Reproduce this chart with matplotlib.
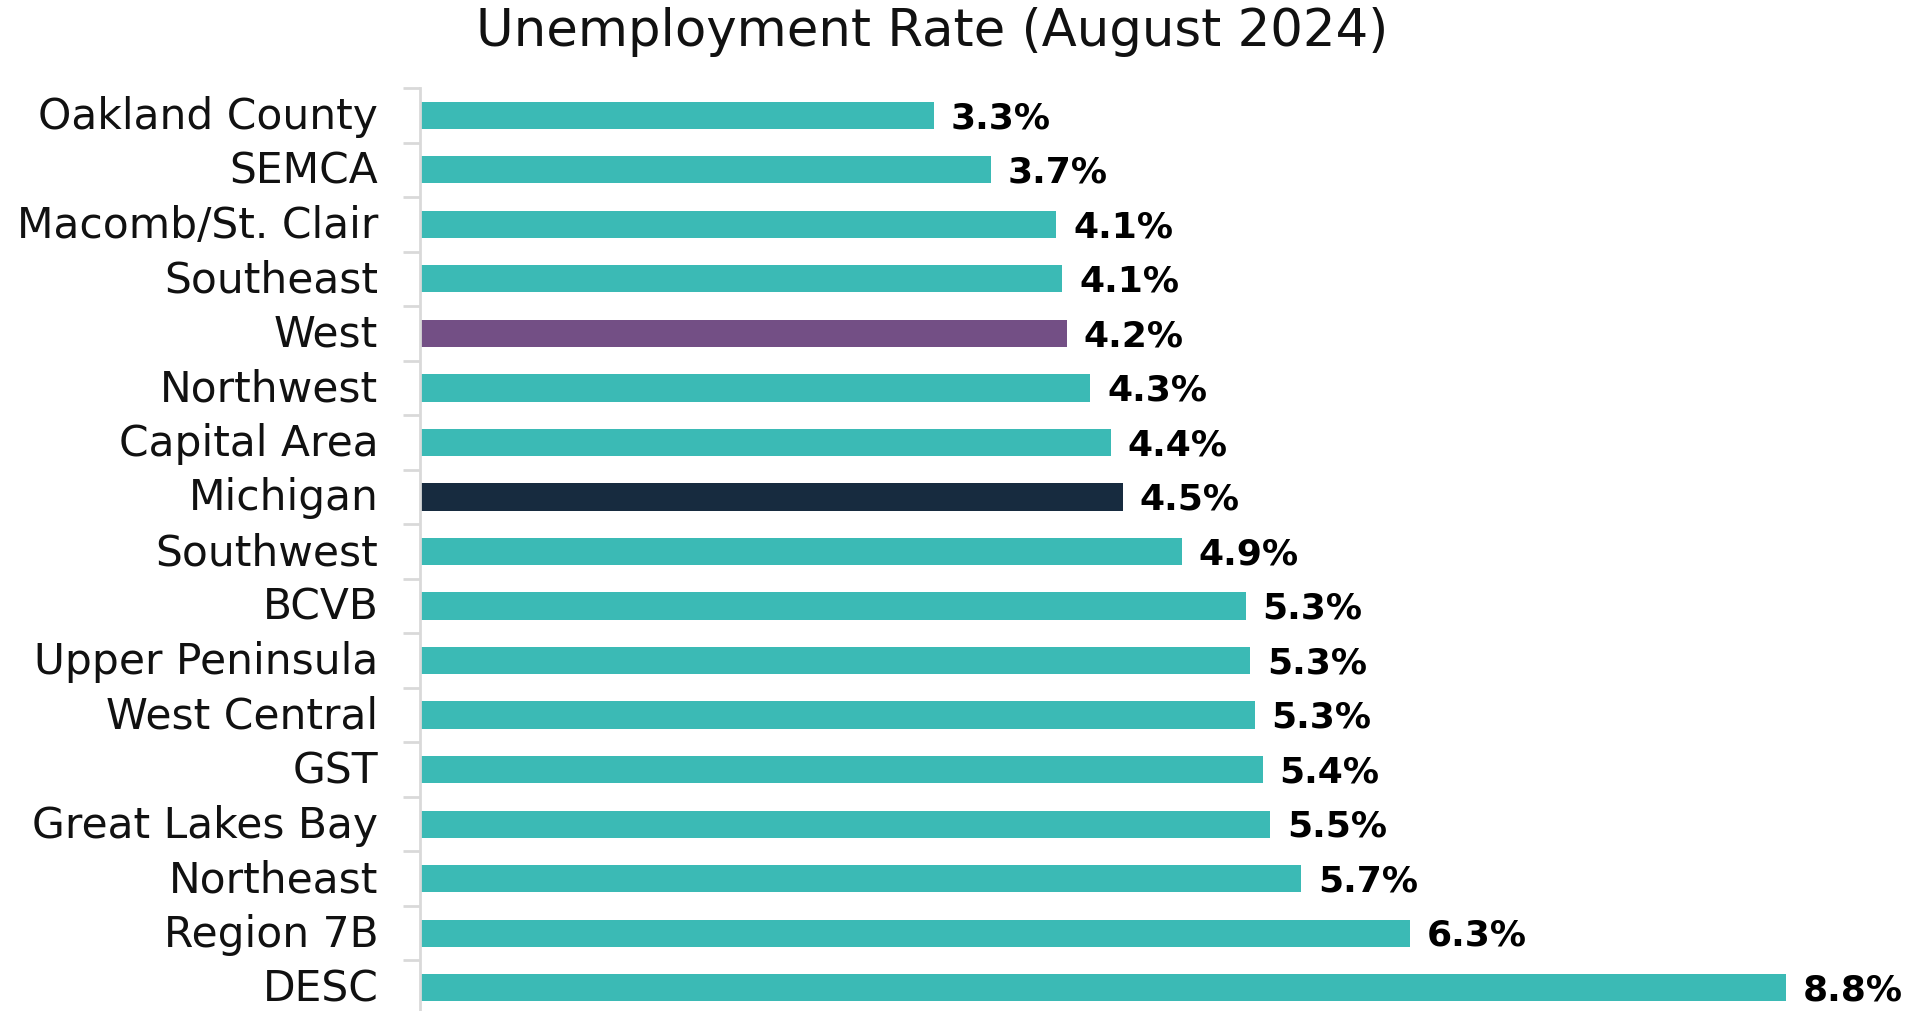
import matplotlib
matplotlib.use("Agg")
import matplotlib.pyplot as plt
import matplotlib.transforms as mtransforms

# data, top to bottom as shown
regions = [
    "Oakland County", "SEMCA", "Macomb/St. Clair", "Southeast", "West",
    "Northwest", "Capital Area", "Michigan", "Southwest", "BCVB",
    "Upper Peninsula", "West Central", "GST", "Great Lakes Bay",
    "Northeast", "Region 7B", "DESC",
]
rates = [3.31, 3.68, 4.10, 4.14, 4.17, 4.32, 4.45, 4.53, 4.91, 5.32,
         5.35, 5.38, 5.43, 5.48, 5.68, 6.38, 8.80]
rate_labels = ["3.3%", "3.7%", "4.1%", "4.1%", "4.2%", "4.3%", "4.4%", "4.5%",
               "4.9%", "5.3%", "5.3%", "5.3%", "5.4%", "5.5%", "5.7%", "6.3%", "8.8%"]

teal = "#3BBAB5"
highlight = {"West": "#734F85", "Michigan": "#172B3F"}
colors = [highlight.get(r, teal) for r in regions]

plt.rcParams['font.family'] = ['DejaVu Sans']

W, H = 1924, 1011
fig = plt.figure(figsize=(W / 100, H / 100), dpi=100)

# axes placed in pixel terms
left, right = 420, 1885
top, bottom = 88, 1015
ax = fig.add_axes([left / W, 1 - bottom / H, (right - left) / W, (bottom - top) / H])

y = list(range(len(regions)))
ax.barh(y, rates, height=0.5, color=colors)

ax.set_xlim(0, 9.44)
ax.set_ylim(len(regions) - 0.5, -0.5)

ax.set_yticks(y)
ax.set_yticklabels(regions, fontsize=30.5, color="#111111")
ax.tick_params(axis='y', which='major', length=0, pad=30)
# nudge the category labels up a touch so they sit on the bar centre
nudge = mtransforms.ScaledTranslation(0, 3 / 100, fig.dpi_scale_trans)
for t in ax.get_yticklabels():
    t.set_transform(t.get_transform() + nudge)
# tick marks sit between categories
ax.set_yticks([i - 0.5 for i in range(len(regions) + 1)], minor=True)
ax.tick_params(axis='y', which='minor', length=12, width=2, color="#d9d9d9")
ax.set_xticks([])

for s in ["top", "right", "bottom"]:
    ax.spines[s].set_visible(False)
ax.spines["left"].set_color("#d9d9d9")
ax.spines["left"].set_linewidth(2)

for yi, v, lab in zip(y, rates, rate_labels):
    ax.annotate(lab, (v, yi), xytext=(12, -2), textcoords="offset points",
                ha="left", va="center", fontsize=26, fontweight="bold",
                color="black")

fig.text(932 / W, 1 - 46 / H, "Unemployment Rate (August 2024)",
         ha="center", va="baseline", fontsize=37, color="#111111")

fig.savefig("out.png", dpi=100)
